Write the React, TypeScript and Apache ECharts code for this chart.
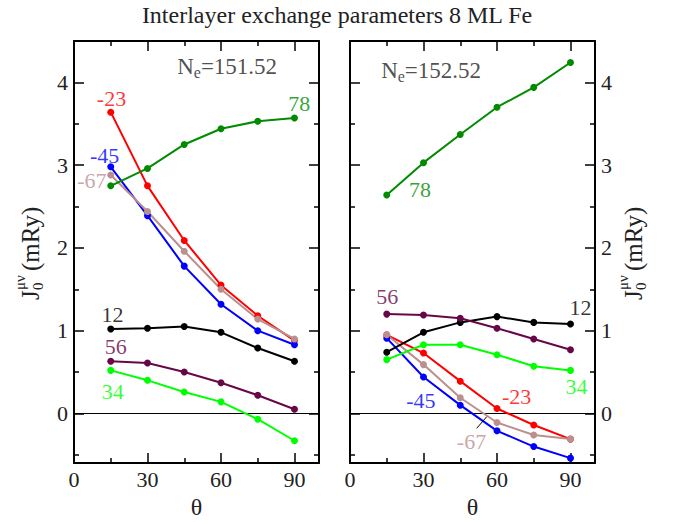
import React, { useEffect, useRef } from 'react';
import * as echarts from 'echarts';

const FONT = 'Liberation Serif, serif';

const theta = [15, 30, 45, 60, 75, 90];
const xTicksMajor = [0, 30, 60, 90];
const xTicksMinor = [15, 45, 75];
const yTicksMajor = [0, 1, 2, 3, 4];
const yTicksMinor = [-0.5, 0.5, 1.5, 2.5, 3.5];

const seriesNames = ['-23', '-45', '-67', '78', '12', '56', '34'];
const seriesColors = ['#ff0000', '#0000ff', '#bc8f8f', '#008b00', '#000000', '#670748', '#00ff00'];

// N_e = 151.52 (left panel)
const left_m23 = [3.64, 2.75, 2.09, 1.55, 1.18, 0.88];
const left_m45 = [2.98, 2.39, 1.78, 1.32, 1.0, 0.83];
const left_m67 = [2.88, 2.44, 1.96, 1.5, 1.14, 0.9];
const left_78 = [2.75, 2.96, 3.25, 3.44, 3.53, 3.57];
const left_12 = [1.02, 1.03, 1.05, 0.98, 0.79, 0.63];
const left_56 = [0.63, 0.61, 0.5, 0.37, 0.22, 0.05];
const left_34 = [0.52, 0.4, 0.26, 0.14, -0.07, -0.33];

// N_e = 152.52 (right panel)
const right_m23 = [0.95, 0.73, 0.39, 0.06, -0.14, -0.31];
const right_m45 = [0.91, 0.44, 0.1, -0.21, -0.4, -0.54];
const right_m67 = [0.95, 0.59, 0.19, -0.11, -0.26, -0.31];
const right_78 = [2.64, 3.03, 3.37, 3.7, 3.94, 4.24];
const right_12 = [0.74, 0.98, 1.1, 1.17, 1.1, 1.08];
const right_56 = [1.2, 1.19, 1.15, 1.03, 0.9, 0.77];
const right_34 = [0.65, 0.83, 0.83, 0.71, 0.57, 0.52];

const leftSets = [left_m23, left_m45, left_m67, left_78, left_12, left_56, left_34];
const rightSets = [right_m23, right_m45, right_m67, right_78, right_12, right_56, right_34];

const panelTitles = ['151.52', '152.52'];

// annotation anchors in data units: [x, y] per series label
const leftLabelAt = [[15.3, 3.81], [12.5, 3.12], [7.3, 2.81], [91.9, 3.74], [15.7, 1.2], [17, 0.81], [15.8, 0.27]];
const rightLabelAt = [[68, 0.2], [28.9, 0.16], [49.6, -0.34], [28.6, 2.71], [94.1, 1.28], [15.2, 1.41], [92.4, 0.33]];
const panelTitleAt = [[62.5, 4.19], [33.1, 4.14]];

const AXIS_LINE = { show: true, onZero: false, lineStyle: { color: '#000', width: 2 } };
const TICK_LINE = { color: '#000', width: 1.5 };

function xAxes(g: number) {
  const base = { type: 'value', gridIndex: g, min: 0, max: 100, splitLine: { show: false } };
  return [
    {
      ...base,
      position: 'bottom',
      axisLine: AXIS_LINE,
      axisTick: { show: true, inside: true, length: 10, customValues: xTicksMajor, lineStyle: TICK_LINE },
      axisLabel: { show: true, customValues: xTicksMajor, margin: 5, fontSize: 22, fontFamily: FONT, fontWeight: 'normal', color: '#222' },
      name: 'θ',
      nameLocation: 'middle',
      nameGap: 26,
      nameTextStyle: { fontSize: 24, fontFamily: FONT, fontWeight: 'normal', color: '#222' },
    },
    {
      ...base,
      position: 'bottom',
      axisLine: { show: false, onZero: false },
      axisTick: { show: true, inside: true, length: 5, customValues: xTicksMinor, lineStyle: TICK_LINE },
      axisLabel: { show: false },
    },
    {
      ...base,
      position: 'top',
      axisLine: AXIS_LINE,
      axisTick: { show: true, inside: true, length: 10, customValues: xTicksMajor, lineStyle: TICK_LINE },
      axisLabel: { show: false },
    },
    {
      ...base,
      position: 'top',
      axisLine: { show: false, onZero: false },
      axisTick: { show: true, inside: true, length: 5, customValues: xTicksMinor, lineStyle: TICK_LINE },
      axisLabel: { show: false },
    },
  ];
}

function yAxes(g: number) {
  const base = { type: 'value', gridIndex: g, min: -0.6, max: 4.5, splitLine: { show: false } };
  const lab = (show: boolean) =>
    show
      ? { show: true, customValues: yTicksMajor, margin: 6, fontSize: 22, fontFamily: FONT, fontWeight: 'normal', color: '#222' }
      : { show: false };
  return [
    {
      ...base,
      position: 'left',
      axisLine: AXIS_LINE,
      axisTick: { show: true, inside: true, length: 10, customValues: yTicksMajor, lineStyle: TICK_LINE },
      axisLabel: lab(g === 0),
    },
    {
      ...base,
      position: 'left',
      axisLine: { show: false, onZero: false },
      axisTick: { show: true, inside: true, length: 5, customValues: yTicksMinor, lineStyle: TICK_LINE },
      axisLabel: { show: false },
    },
    {
      ...base,
      position: 'right',
      axisLine: AXIS_LINE,
      axisTick: { show: true, inside: true, length: 10, customValues: yTicksMajor, lineStyle: TICK_LINE },
      axisLabel: lab(g === 1),
    },
    {
      ...base,
      position: 'right',
      axisLine: { show: false, onZero: false },
      axisTick: { show: true, inside: true, length: 5, customValues: yTicksMinor, lineStyle: TICK_LINE },
      axisLabel: { show: false },
    },
  ];
}

function panelSeries(g: number, sets: number[][], labelAt: number[][]) {
  const ax = g * 4;
  const out: any[] = sets.map((arr, i) => {
    const s: any = {
      type: 'line',
      name: seriesNames[i] + '_' + g,
      xAxisIndex: ax,
      yAxisIndex: ax,
      data: theta.map((t, k) => [t, arr[k]]),
      symbol: 'circle',
      symbolSize: 7,
      lineStyle: { color: seriesColors[i], width: 2 },
      itemStyle: { color: seriesColors[i] },
      z: 3,
    };
    if (i === 4) {
      s.markLine = {
        silent: true,
        symbol: ['none', 'none'],
        label: { show: false },
        lineStyle: { color: '#000', width: 1, type: 'solid' },
        data: [{ yAxis: 0 }],
        z: 1,
      };
    }
    if (g === 1 && i === 2) {
      s.markLine = {
        silent: true,
        symbol: ['none', 'none'],
        label: { show: false },
        lineStyle: { color: '#000', width: 1, type: 'solid' },
        data: [[{ coord: [51.7, -0.18] }, { coord: [55.8, -0.04] }]],
      };
    }
    return s;
  });
  const labelData: any[] = labelAt.map((p, i) => ({
    value: p,
    name: seriesNames[i],
    label: { color: seriesColors[i] },
  }));
  labelData.push({
    value: panelTitleAt[g],
    name: 'Ne',
    label: {
      formatter: '{n|N}{s|e}{n|=' + panelTitles[g] + '}',
    },
  });
  out.push({
    type: 'scatter',
    name: 'labels_' + g,
    xAxisIndex: ax,
    yAxisIndex: ax,
    symbolSize: 0,
    silent: true,
    z: 5,
    data: labelData,
    label: {
      show: true,
      position: 'inside',
      formatter: '{b}',
      fontSize: 22,
      fontFamily: FONT,
      fontWeight: 'normal',
      rich: {
        n: { fontSize: 23, fontFamily: FONT, fontWeight: 'normal', color: '#222', lineHeight: 28, verticalAlign: 'middle' },
        s: { fontSize: 16, fontFamily: FONT, fontWeight: 'normal', color: '#222', lineHeight: 14, verticalAlign: 'bottom' },
      },
    },
  });
  return out;
}

function yName(cx: number, cy: number) {
  const st = (text: string, size: number) => ({
    text,
    font: 'normal ' + size + 'px ' + FONT,
    fill: '#222',
    align: 'left',
    verticalAlign: 'middle',
  });
  return {
    type: 'group',
    x: cx,
    y: cy,
    rotation: Math.PI / 2,
    silent: true,
    children: [
      { type: 'text', x: -48, y: 0, style: st('J', 25) },
      { type: 'text', x: -38, y: 8, style: st('0', 15) },
      { type: 'text', x: -38, y: -10, style: st('μν', 15) },
      { type: 'text', x: -19, y: 0, style: st('(mRy)', 25) },
    ],
  };
}

export default function App() {
  const ref = useRef<HTMLDivElement>(null);
  useEffect(() => {
    if (!ref.current) return;
    const chart = echarts.init(ref.current, undefined, { renderer: 'svg' });
    const option: any = {
      animation: false,
      backgroundColor: '#fff',
      textStyle: { fontFamily: FONT, fontWeight: 'normal' },
      title: {
        text: 'Interlayer exchange parameters 8 ML Fe',
        left: 'center',
        top: -2,
        textStyle: { fontFamily: FONT, fontSize: 24, fontWeight: 'normal', color: '#222' },
      },
      grid: [
        { left: 74, top: 41, width: 245, height: 429 },
        { left: 350, top: 41, width: 245, height: 429 },
      ],
      xAxis: [...xAxes(0), ...xAxes(1)],
      yAxis: [...yAxes(0), ...yAxes(1)],
      series: [...panelSeries(0, leftSets, leftLabelAt), ...panelSeries(1, rightSets, rightLabelAt)],
      graphic: [yName(30, 252), yName(633, 252)],
    };
    chart.setOption(option);
    return () => chart.dispose();
  }, []);
  return (
    <div
      ref={ref}
      style={{ position: 'fixed', left: 0, top: 0, width: 674, height: 524, background: '#fff' }}
    />
  );
}
